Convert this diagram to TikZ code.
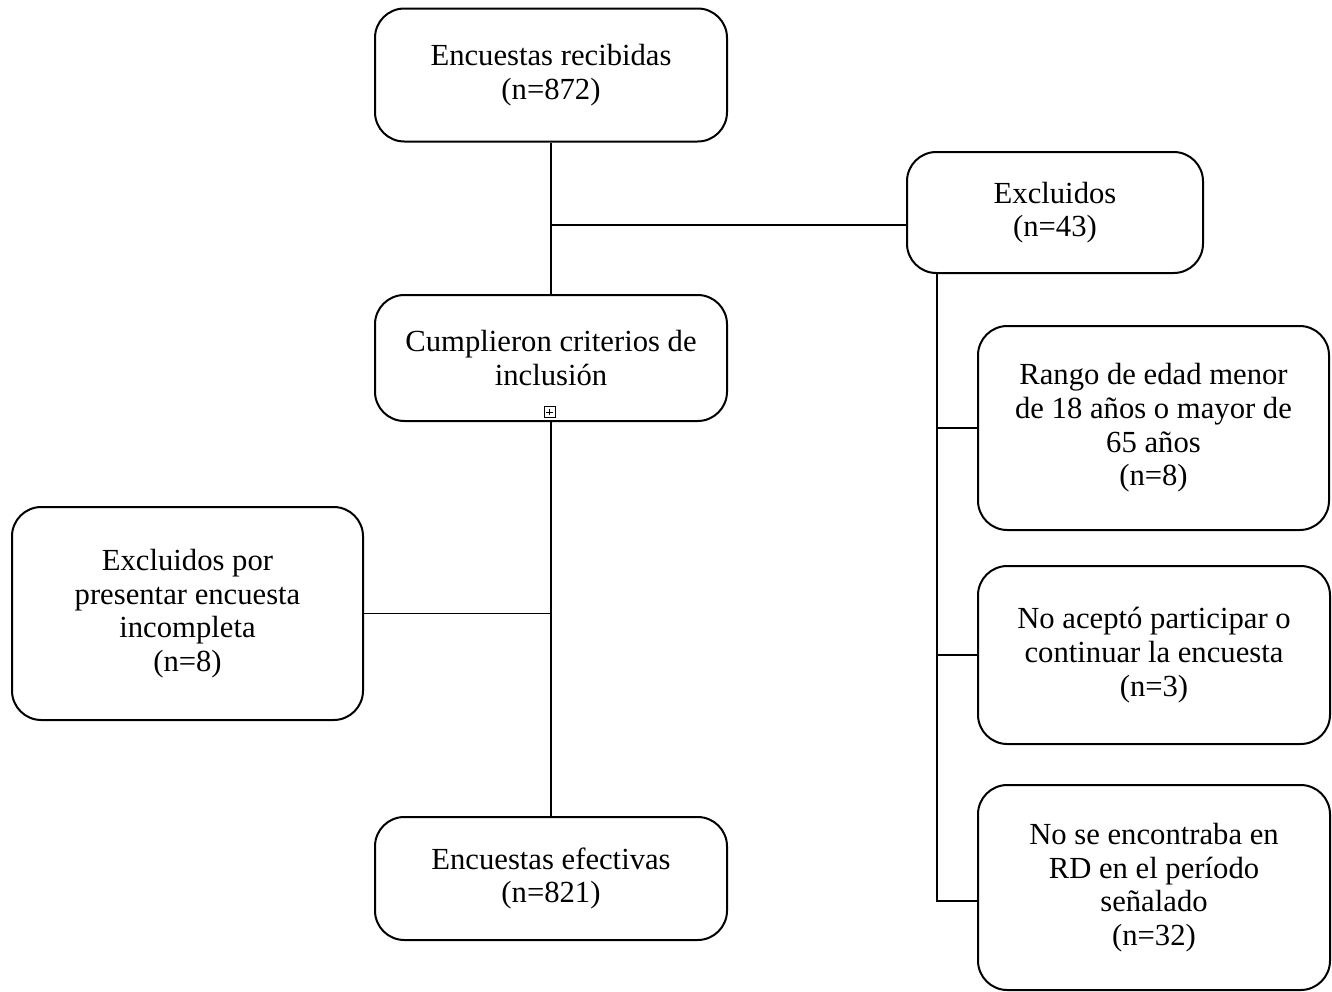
\documentclass[tikz,border=0pt]{standalone}
\usepackage{fontspec}
\setmainfont{Liberation Serif}
\begin{document}
\begin{tikzpicture}[x=0.75pt,y=-0.75pt,
  box/.style={draw, line width=1.5pt, rounded corners=22pt, align=center, inner sep=0pt,
    font=\fontsize{23}{25.3}\selectfont},
  conn/.style={line width=1.4pt}]
\useasboundingbox (0,0) rectangle (1332,992);
\node[box, minimum width=264pt, minimum height=99.75pt] (rec) at (551,75) {Encuestas recibidas\\(n=872)};
\node[box, minimum width=222pt, minimum height=90.75pt] (exc) at (1055,212.5) {Excluidos\\(n=43)};
\node[box, minimum width=264pt, minimum height=94.5pt] (cum) at (551,358) {Cumplieron criterios de\\inclusión};
\node[box, minimum width=263.25pt, minimum height=159.75pt] (inc) at (187.5,613.5) {Excluidos por\\presentar encuesta\\incompleta\\(n=8)};
\node[box, minimum width=264pt, minimum height=92.25pt] (efe) at (551,878.5) {Encuestas efectivas\\(n=821)};
\node[box, minimum width=263.25pt, minimum height=153pt] (ran) at (1153.5,428) {Rango de edad menor\\de 18 años o mayor de\\65 años\\(n=8)};
\node[box, minimum width=264pt, minimum height=133.5pt] (ace) at (1154,655) {No aceptó participar o\\continuar la encuesta\\(n=3)};
\node[box, minimum width=264pt, minimum height=153.75pt] (enc) at (1154,887.5) {No se encontraba en\\RD en el período\\señalado\\(n=32)};
\coordinate (j1) at (551,225);
\coordinate (tb) at (937,901);
\draw[conn] (rec.south) -- (cum.north);
\draw[conn] (j1) -- (j1 -| exc.west);
\draw[conn] (cum.south) -- (efe.north);
\draw[conn] (inc.east) -- (inc.east -| efe.north);
\draw[conn] (exc.south -| tb) -- (tb) -- (tb -| enc.west);
\draw[conn] (tb |- ran.west) -- (ran.west);
\draw[conn] (tb |- ace.west) -- (ace.west);
\node[draw, line width=0.5pt, minimum size=8pt, inner sep=0pt, fill=white] (mk) at (549.5,412) {};
\draw[line width=0.5pt] ([yshift=-1.8pt]mk.north) -- ([yshift=1.8pt]mk.south)
  ([xshift=1.8pt]mk.west) -- ([xshift=-1.8pt]mk.east);
\end{tikzpicture}
\end{document}
